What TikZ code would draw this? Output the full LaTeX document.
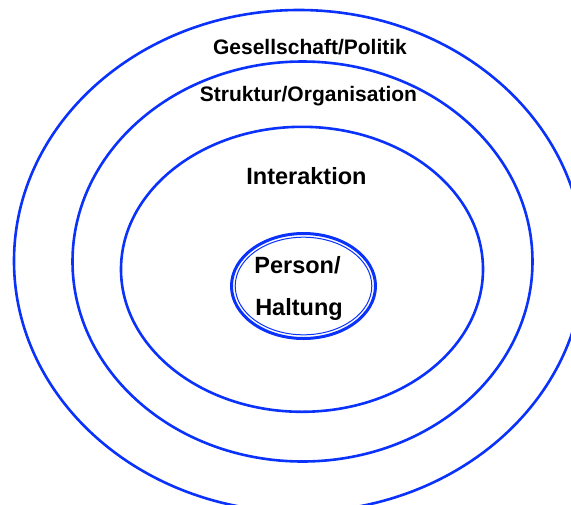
\documentclass[tikz,border=0pt]{standalone}
\usepackage{fontspec}
\setmainfont{Liberation Sans}
\definecolor{ringblue}{RGB}{10,50,250}
\begin{document}
\begin{tikzpicture}[x=1pt,y=-1pt,
  ring/.style={draw=ringblue,line width=2.6pt},
  lblA/.style={font=\bfseries\fontsize{21}{25}\selectfont,anchor=base,inner sep=0pt},
  lblB/.style={font=\bfseries\fontsize{23.5}{28}\selectfont,anchor=base,inner sep=0pt}]
\useasboundingbox (0,0) rectangle (571,504);
\begin{scope}
\clip (0,0) rectangle (571,504);
\draw[ring] (299,261) ellipse [x radius=285, y radius=251];
\draw[ring] (302.5,261.5) ellipse [x radius=230, y radius=200];
\draw[ring] (302,269.3) ellipse [x radius=181, y radius=142.5];
\draw[draw=ringblue,line width=3pt] (303.5,286) ellipse [x radius=72, y radius=52.5];
\draw[draw=ringblue,line width=1pt] (303.5,286) ellipse [x radius=68.3, y radius=48.8];
\end{scope}
\node[lblA] (gp) at (310,54.3) {Gesellschaft/Politik};
\node[lblA] (so) at (308.5,101.7) {Struktur/Organisation};
\node[lblB] (ia) at (306.5,184) {Interaktion};
\node[lblB] (pe) at (297.5,273.3) {Person/};
\node[lblB] (ha) at (299,315) {Haltung};
\end{tikzpicture}
\end{document}
